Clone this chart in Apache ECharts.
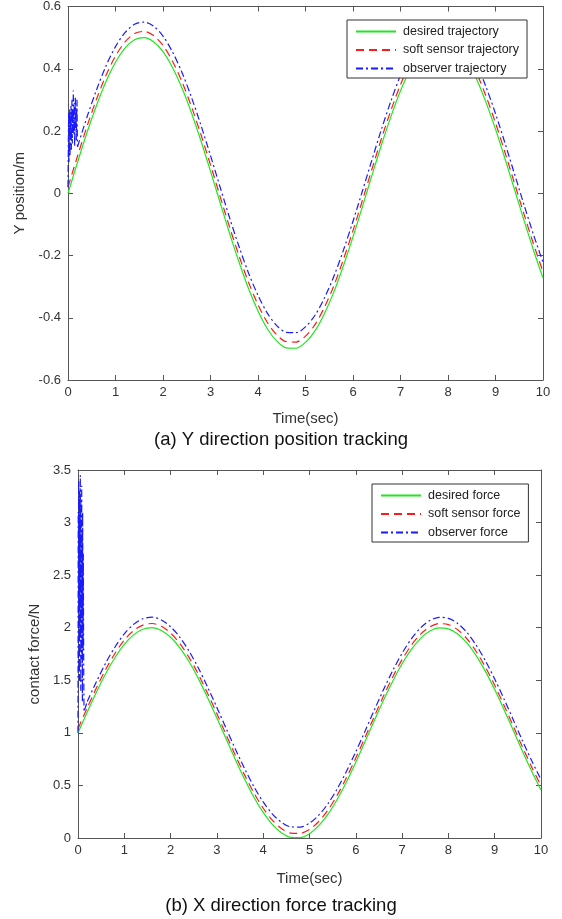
<!DOCTYPE html>
<html>
<head>
<meta charset="utf-8">
<script src="https://cdn.jsdelivr.net/npm/echarts@6/dist/echarts.min.js"></script>
<style>html,body{margin:0;padding:0;background:#fff}#c{width:562px;height:919px}</style>
</head>
<body>
<div id="c"></div>
<script>
// ---- Data ----
const T = [0,0.2,0.4,0.6,0.8,1.0,1.2,1.4,1.6,1.8,2.0,2.2,2.4,2.6,2.8,3.0,3.2,3.4,3.6,3.8,4.0,4.2,4.4,4.6,4.8,5.0,5.2,5.4,5.6,5.8,6.0,6.2,6.4,6.6,6.8,7.0,7.2,7.4,7.6,7.8,8.0,8.2,8.4,8.6,8.8,9.0,9.2,9.4,9.6,9.8,10.0];

// (a) Y position (m)
const desiredY = [0,0.099,0.195,0.282,0.359,0.421,0.466,0.493,0.500,0.487,0.455,0.404,0.338,0.258,0.168,0.071,-0.029,-0.128,-0.221,-0.306,-0.378,-0.436,-0.476,-0.497,-0.498,-0.479,-0.442,-0.386,-0.316,-0.232,-0.140,-0.042,0.058,0.156,0.247,0.329,0.397,0.449,0.484,0.499,0.495,0.470,0.427,0.367,0.292,0.206,0.111,0.012,-0.087,-0.183,-0.272];
const softY = [0.020,0.119,0.215,0.302,0.379,0.441,0.486,0.513,0.520,0.507,0.475,0.424,0.358,0.278,0.188,0.091,-0.009,-0.108,-0.201,-0.286,-0.358,-0.416,-0.456,-0.477,-0.478,-0.459,-0.422,-0.366,-0.296,-0.212,-0.120,-0.022,0.078,0.176,0.267,0.349,0.417,0.469,0.504,0.519,0.515,0.490,0.447,0.387,0.312,0.226,0.131,0.032,-0.067,-0.163,-0.252];
const obsY = [0.050,0.149,0.245,0.332,0.409,0.471,0.516,0.543,0.550,0.537,0.505,0.454,0.388,0.308,0.218,0.121,0.021,-0.078,-0.171,-0.256,-0.328,-0.386,-0.426,-0.447,-0.448,-0.429,-0.392,-0.336,-0.266,-0.182,-0.090,0.008,0.108,0.206,0.297,0.379,0.447,0.499,0.534,0.549,0.545,0.520,0.477,0.417,0.342,0.256,0.161,0.062,-0.037,-0.133,-0.222];
const obsYNoiseT = [0,0.007,0.014,0.021,0.028,0.035,0.042,0.049,0.056,0.063,0.070,0.077,0.084,0.091,0.098,0.105,0.112,0.119,0.126,0.133,0.140,0.147,0.154,0.161,0.168,0.175,0.182,0.189,0.196,0.2];
const obsYNoiseV = [0.02,0.15,0.26,0.10,0.22,0.27,0.12,0.25,0.18,0.28,0.14,0.24,0.30,0.16,0.27,0.20,0.33,0.19,0.26,0.29,0.15,0.24,0.31,0.21,0.27,0.17,0.25,0.30,0.19,0.149];

// (b) contact force (N)
const desiredF = [1.000,1.199,1.389,1.565,1.717,1.842,1.932,1.985,2.000,1.974,1.909,1.809,1.676,1.516,1.335,1.141,0.942,0.745,0.558,0.388,0.243,0.128,0.048,0.006,0.004,0.041,0.117,0.227,0.369,0.535,0.721,0.917,1.117,1.312,1.494,1.657,1.794,1.899,1.968,1.999,1.989,1.941,1.855,1.734,1.585,1.412,1.223,1.025,0.826,0.634,0.456];
const softF = [1.040,1.239,1.429,1.605,1.757,1.882,1.972,2.025,2.040,2.014,1.949,1.849,1.716,1.556,1.375,1.181,0.982,0.785,0.598,0.428,0.283,0.168,0.088,0.046,0.044,0.081,0.157,0.267,0.409,0.575,0.761,0.957,1.157,1.352,1.534,1.697,1.834,1.939,2.008,2.039,2.029,1.981,1.895,1.774,1.625,1.452,1.263,1.065,0.866,0.674,0.496];
const obsF = [1.100,1.299,1.489,1.665,1.817,1.942,2.032,2.085,2.100,2.074,2.009,1.909,1.776,1.616,1.435,1.241,1.042,0.845,0.658,0.488,0.343,0.228,0.148,0.106,0.104,0.141,0.217,0.327,0.469,0.635,0.821,1.017,1.217,1.412,1.594,1.757,1.894,1.999,2.068,2.099,2.089,2.041,1.955,1.834,1.685,1.512,1.323,1.125,0.926,0.734,0.556];
const obsFNoiseT = [0,0.005,0.010,0.015,0.020,0.025,0.030,0.035,0.040,0.045,0.050,0.055,0.060,0.065,0.070,0.075,0.080,0.085,0.090,0.095,0.100,0.105,0.110,0.115,0.120,0.125,0.130,0.2];
const obsFNoiseV = [1.00,3.10,1.60,3.40,2.20,3.00,1.50,3.30,2.60,1.90,3.45,2.40,1.40,3.20,2.80,1.70,3.35,2.10,2.90,1.30,3.10,2.50,1.80,2.70,2.00,1.50,1.20,1.299];

const xTicks = [0,1,2,3,4,5,6,7,8,9,10];
const namesA = ['desired trajectory','soft sensor trajectory','observer trajectory'];
const namesB = ['desired force','soft sensor force','observer force'];
const captions = ['(a) Y direction position tracking','(b) X direction force tracking'];

// ---- Chart ----
const FONT = '"Liberation Sans", Arial, sans-serif';
const AX = '#555';
const pairs = (xs, ys) => xs.map((x, i) => [x, ys[i]]);

function xAxes(g, gap) {
  const base = {
    type: 'value', gridIndex: g, min: xTicks[0], max: xTicks[xTicks.length - 1], interval: 1,
    axisLine: { show: true, onZero: false, lineStyle: { color: AX, width: 1 } },
    axisTick: { show: true, inside: true, length: 5, lineStyle: { color: AX } },
    splitLine: { show: false }
  };
  return [
    Object.assign({}, base, {
      position: 'bottom',
      axisLabel: { color: '#333', fontSize: 13, fontFamily: FONT, margin: 6 },
      name: 'Time(sec)', nameLocation: 'middle', nameGap: gap,
      nameTextStyle: { color: '#333', fontSize: 15, fontFamily: FONT }
    }),
    Object.assign({}, base, { position: 'top', axisLabel: { show: false } })
  ];
}
function yAxes(g, min, max, interval, name, gap) {
  const base = {
    type: 'value', gridIndex: g, min: min, max: max, interval: interval,
    axisLine: { show: true, onZero: false, lineStyle: { color: AX, width: 1 } },
    axisTick: { show: true, inside: true, length: 5, lineStyle: { color: AX } },
    splitLine: { show: false }
  };
  return [
    Object.assign({}, base, {
      position: 'left',
      axisLabel: { color: '#333', fontSize: 13, fontFamily: FONT, margin: 7 },
      name: name, nameLocation: 'middle', nameGap: gap,
      nameTextStyle: { color: '#333', fontSize: 15, fontFamily: FONT }
    }),
    Object.assign({}, base, { position: 'right', axisLabel: { show: false } })
  ];
}

const GREEN = '#1ee81e', RED = '#ff1a1a', BLUE = '#1a1aff';
function line(name, data, color, type, xi, yi, smooth) {
  return {
    type: 'line', name: name, data: data, xAxisIndex: xi, yAxisIndex: yi,
    symbol: 'none', smooth: smooth, animation: false, silent: true,
    lineStyle: { color: color, width: 1.2, type: type },
    itemStyle: { color: color }
  };
}
const DASH = [8, 5];
const DASHDOT = [7, 3, 2, 3];

function legend(left, top, names) {
  return {
    left: left, top: top, orient: 'vertical', data: names,
    itemWidth: 40, itemHeight: 12, itemGap: 5.5,
    padding: [5, 8, 3, 8],
    borderColor: '#333', borderWidth: 1, backgroundColor: '#fff',
    itemStyle: { opacity: 0 },
    textStyle: { color: '#222', fontSize: 12.5, fontFamily: FONT, padding: [0, 0, 0, 2] },
    selectedMode: false, z: 10
  };
}

const chart = echarts.init(document.getElementById('c'), null, { renderer: 'canvas' });
chart.setOption({
  animation: false,
  backgroundColor: '#fff',
  grid: [
    { left: 68, right: 19, top: 6, height: 374 },
    { left: 78, right: 21, top: 470, height: 368 }
  ],
  xAxis: [].concat(xAxes(0, 31), xAxes(1, 33)),
  yAxis: [].concat(yAxes(0, -0.6, 0.6, 0.2, 'Y position/m', 36), yAxes(1, 0, 3.5, 0.5, 'contact force/N', 34)),
  legend: [legend(347, 20, namesA), legend(372, 484, namesB)],
  series: [
    line(namesA[0], pairs(T, desiredY), GREEN, 'solid', 0, 0, 0.3),
    line(namesA[1], pairs(T, softY), RED, DASH, 0, 0, 0.3),
    line(namesA[2], pairs(T, obsY).slice(1), BLUE, DASHDOT, 0, 0, 0.3),
    line(namesA[2], pairs(obsYNoiseT, obsYNoiseV), BLUE, DASHDOT, 0, 0, false),
    line(namesB[0], pairs(T, desiredF), GREEN, 'solid', 2, 2, 0.3),
    line(namesB[1], pairs(T, softF), RED, DASH, 2, 2, 0.3),
    line(namesB[2], pairs(T, obsF).slice(1), BLUE, DASHDOT, 2, 2, 0.3),
    line(namesB[2], pairs(obsFNoiseT, obsFNoiseV), BLUE, DASHDOT, 2, 2, false)
  ],
  graphic: [
    { type: 'text', left: 'center', top: 430, style: { text: captions[0], fill: '#111', font: '18.5px ' + FONT } },
    { type: 'text', left: 'center', top: 896, style: { text: captions[1], fill: '#111', font: '18.5px ' + FONT } }
  ]
});
</script>
</body>
</html>
